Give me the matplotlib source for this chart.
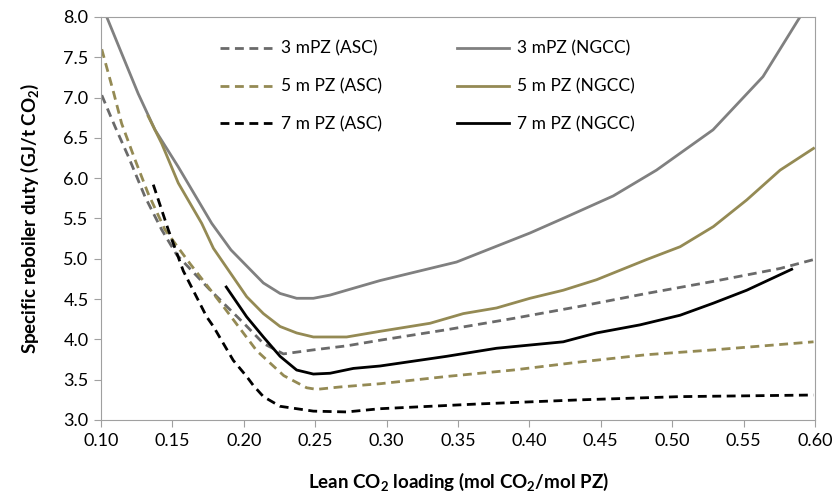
import numpy as np
import matplotlib.pyplot as plt

# lean loading (x) and specific reboiler duty (y)
x_3m_asc = [0.1005, 0.1098, 0.1191, 0.1308, 0.1425, 0.153, 0.176, 0.200, 0.2137, 0.2277, 0.2487, 0.272, 0.2954,
            0.342, 0.3887, 0.4354, 0.482, 0.5289, 0.5756, 0.599]
y_3m_asc = [7.03, 6.64, 6.27, 5.77, 5.36, 5.05, 4.62, 4.20, 3.95, 3.82, 3.87, 3.92, 3.99,
            4.12, 4.26, 4.41, 4.57, 4.72, 4.88, 4.99]

x_3m_ngcc = [0.104, 0.1144, 0.126, 0.1378, 0.1541, 0.1775, 0.191, 0.2137, 0.2254, 0.237, 0.2487, 0.2604, 0.272,
             0.2954, 0.349, 0.4004, 0.426, 0.4587, 0.489, 0.5286, 0.5636, 0.5895]
y_3m_ngcc = [8.0, 7.55, 7.05, 6.60, 6.14, 5.44, 5.11, 4.70, 4.57, 4.51, 4.51, 4.55, 4.61,
             4.73, 4.96, 5.32, 5.52, 5.78, 6.10, 6.60, 7.26, 8.0]

x_5m_asc = [0.1005, 0.109, 0.1144, 0.1238, 0.133, 0.1448, 0.1623, 0.1856, 0.209, 0.228, 0.244, 0.251, 0.2674,
            0.2954, 0.342, 0.3887, 0.4354, 0.482, 0.5289, 0.599]
y_5m_asc = [7.60, 7.05, 6.68, 6.23, 5.81, 5.36, 4.94, 4.41, 3.86, 3.55, 3.40, 3.38, 3.41,
            3.45, 3.54, 3.62, 3.72, 3.81, 3.87, 3.97]

x_5m_ngcc = [0.133, 0.1425, 0.1541, 0.1705, 0.1787, 0.202, 0.2137, 0.2254, 0.237, 0.2487, 0.272, 0.2954, 0.3304,
             0.3537, 0.377, 0.4004, 0.4237, 0.447, 0.482, 0.5056, 0.5289, 0.5522, 0.5756, 0.599]
y_5m_ngcc = [6.77, 6.43, 5.94, 5.44, 5.13, 4.53, 4.32, 4.16, 4.08, 4.03, 4.03, 4.10, 4.20,
             4.32, 4.39, 4.51, 4.61, 4.74, 4.99, 5.15, 5.40, 5.73, 6.10, 6.37]

x_7m_asc = [0.1366, 0.1471, 0.1576, 0.174, 0.1787, 0.1926, 0.202, 0.2066, 0.2137, 0.2254, 0.2487, 0.272, 0.2954,
            0.3654, 0.4354, 0.5056, 0.599]
y_7m_asc = [5.92, 5.36, 4.85, 4.28, 4.16, 3.74, 3.54, 3.43, 3.29, 3.17, 3.11, 3.10, 3.14,
            3.20, 3.25, 3.29, 3.31]

x_7m_ngcc = [0.1877, 0.202, 0.2137, 0.2254, 0.237, 0.2487, 0.2604, 0.2767, 0.2954, 0.342, 0.377, 0.4237, 0.447,
             0.4774, 0.5056, 0.5289, 0.5522, 0.5837]
y_7m_ngcc = [4.65, 4.28, 4.03, 3.79, 3.62, 3.57, 3.58, 3.64, 3.67, 3.79, 3.89, 3.97, 4.08,
             4.18, 4.30, 4.45, 4.61, 4.87]

plt.rcParams['font.family'] = ['Lato', 'DejaVu Sans']
plt.rcParams['mathtext.fontset'] = 'custom'
plt.rcParams['mathtext.rm'] = 'Lato'
plt.rcParams['mathtext.bf'] = 'Lato:bold'

grey_d = '#6a6a6a'
grey = '#808080'
olive = '#948A54'
dash = (0, (3.2, 2.0))
lw = 2.0

fig = plt.figure(figsize=(8.35, 5), dpi=100)
ax = fig.add_axes([0.121, 0.16, 0.855, 0.806])

ax.plot(x_3m_asc, y_3m_asc, color=grey_d, lw=lw, ls=dash, label='3 mPZ (ASC)')
ax.plot(x_3m_ngcc, y_3m_ngcc, color=grey, lw=lw, label='3 mPZ (NGCC)')
ax.plot(x_5m_asc, y_5m_asc, color=olive, lw=lw, ls=dash, label='5 m PZ (ASC)')
ax.plot(x_5m_ngcc, y_5m_ngcc, color=olive, lw=lw, label='5 m PZ (NGCC)')
ax.plot(x_7m_asc, y_7m_asc, color='black', lw=lw, ls=dash, label='7 m PZ (ASC)')
ax.plot(x_7m_ngcc, y_7m_ngcc, color='black', lw=lw, label='7 m PZ (NGCC)')

ax.set_xlim(0.10, 0.60)
ax.set_ylim(3.0, 8.0)
ax.set_xticks(np.arange(0.10, 0.601, 0.05))
ax.set_yticks(np.arange(3.0, 8.01, 0.5))
ax.xaxis.set_major_formatter(plt.FormatStrFormatter('%.2f'))
ax.yaxis.set_major_formatter(plt.FormatStrFormatter('%.1f'))
ax.tick_params(direction='out', length=5, color='#a0a0a0', labelsize=13, pad=4)
for s in ax.spines.values():
    s.set_color('#a0a0a0')

ax.set_xlabel(r'Lean CO$_\mathbf{2}$ loading (mol CO$_\mathbf{2}$/mol PZ)', fontsize=13.5, fontweight='bold', labelpad=16)
ax.set_ylabel(r'Specific reboiler duty (GJ/t CO$_\mathbf{2}$)', fontsize=13.5, fontweight='bold', labelpad=16)

handles, labels = ax.get_legend_handles_labels()
order = [0, 2, 4, 1, 3, 5]
ax.legend([handles[i] for i in order], [labels[i] for i in order], ncol=2, frameon=False,
          loc='upper left', bbox_to_anchor=(0.145, 0.98), fontsize=12.5,
          handlelength=3.0, handletextpad=0.5, labelspacing=1.25, columnspacing=4.3)

fig.savefig('out.png', dpi=100)
